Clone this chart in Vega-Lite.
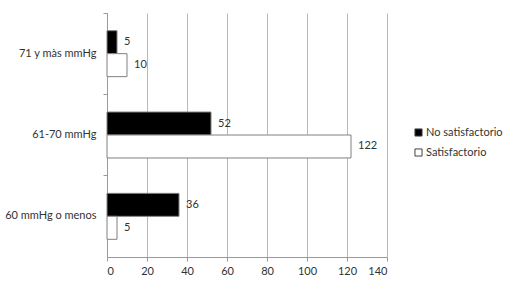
{
  "$schema": "https://vega.github.io/schema/vega-lite/v6.json",
  "autosize": {"type": "none"},
  "width": 280,
  "height": 244,
  "padding": {"left": 107, "top": 13, "right": 122, "bottom": 29},
  "background": "white",
  "data": {
    "values": [
      {"rango": "71 y màs mmHg", "serie": "No satisfactorio", "valor": 5},
      {"rango": "71 y màs mmHg", "serie": "Satisfactorio", "valor": 10},
      {"rango": "61-70 mmHg", "serie": "No satisfactorio", "valor": 52},
      {"rango": "61-70 mmHg", "serie": "Satisfactorio", "valor": 122},
      {"rango": "60 mmHg o menos", "serie": "No satisfactorio", "valor": 36},
      {"rango": "60 mmHg o menos", "serie": "Satisfactorio", "valor": 5}
    ]
  },
  "encoding": {
    "y": {
      "field": "rango", "type": "nominal",
      "sort": ["71 y màs mmHg", "61-70 mmHg", "60 mmHg o menos"],
      "scale": {"paddingInner": 0, "paddingOuter": 0},
      "axis": {
        "title": null, "bandPosition": 0, "grid": false,
        "domainColor": "#9a9a9a", "tickColor": "#9a9a9a", "tickSize": 4,
        "labelPadding": 7, "labelFont": "Lato", "labelFontSize": 11, "labelColor": "#333333"
      }
    },
    "yOffset": {
      "field": "serie", "type": "nominal",
      "sort": ["No satisfactorio", "Satisfactorio"],
      "scale": {"paddingInner": 0, "paddingOuter": 0.77}
    },
    "x": {
      "field": "valor", "type": "quantitative",
      "scale": {"domain": [0, 140], "nice": false},
      "axis": {
        "title": null, "values": [0, 20, 40, 60, 80, 100, 120, 140],
        "grid": true, "gridColor": "#b8b8b8", "gridWidth": 1,
        "domainColor": "#9a9a9a", "tickColor": "#9a9a9a", "tickSize": 4,
        "labelPadding": 4, "labelFont": "Lato", "labelFontSize": 11, "labelColor": "#333333"
      }
    }
  },
  "layer": [
    {
      "mark": {"type": "bar", "stroke": "#808080", "strokeWidth": 1},
      "encoding": {
        "fill": {
          "field": "serie", "type": "nominal",
          "sort": ["No satisfactorio", "Satisfactorio"],
          "scale": {"domain": ["No satisfactorio", "Satisfactorio"], "range": ["#000000", "#ffffff"]},
          "legend": {
            "title": null, "orient": "none", "legendX": 306, "legendY": 114,
            "symbolType": "square", "symbolSize": 50, "symbolStrokeColor": "#404040", "symbolStrokeWidth": 1,
            "labelFont": "Lato", "labelFontSize": 11, "labelColor": "#333333", "labelOffset": 2, "rowPadding": 7
          }
        }
      }
    },
    {
      "mark": {"type": "text", "align": "left", "baseline": "middle", "dx": 7, "font": "Lato", "fontSize": 11, "color": "#333333"},
      "encoding": {"text": {"field": "valor", "type": "quantitative"}}
    }
  ],
  "config": {"view": {"stroke": null}}
}
